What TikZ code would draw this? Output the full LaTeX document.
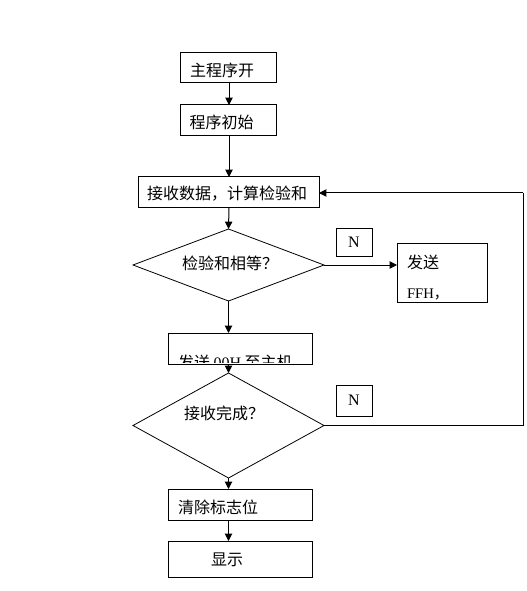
\documentclass[tikz,border=0pt]{standalone}
\usepackage{fontspec}
\setmainfont{Liberation Serif}
\newfontfamily\cjk{Noto Sans CJK SC}
\usetikzlibrary{shapes.geometric,arrows.meta}
\begin{document}
\begin{tikzpicture}[x=0.75pt,y=-0.75pt,
  every node/.style={inner sep=0pt,outer sep=0pt},
  box/.style={draw,line width=0.75pt,rectangle},
  dia/.style={draw,line width=0.6pt,diamond,minimum width=143.25pt},
  lbl/.style={font=\cjk\fontsize{12pt}{14pt}\selectfont},
  nbox/.style={draw,line width=0.75pt,minimum width=27pt,font=\fontsize{12pt}{14pt}\selectfont},
  conn/.style={line width=0.75pt,-{Triangle[length=5.5pt,width=5.5pt]}},
  line/.style={line width=0.75pt}]
\useasboundingbox[fill=white] (0,0) rectangle (526,591);
% boxes
\node[box,minimum width=72pt,minimum height=22.5pt] (b1) at (228,68) {};
\node[lbl] (t1) at (222,70) {主程序开};
\node[box,minimum width=72pt,minimum height=23.25pt] (b2) at (228,120.5) {};
\node[lbl] (t2) at (221.5,122) {程序初始};
\node[box,minimum width=135.75pt,minimum height=23.25pt] (b3) at (228.5,192.5) {};
\node[lbl] (t3) at (227,194) {接收数据，计算检验和};
\node[dia,minimum height=54pt] (d1) at (228.5,265) {};
\node[lbl] (t4) at (230,263) {检验和相等？};
\node[box,minimum width=67.5pt,minimum height=44pt] (bf) at (442,272.8) {};
\node[lbl,anchor=west] (t5) at (407,262) {发送};
\node[anchor=west,font=\fontsize{11pt}{13pt}\selectfont] (t6) at (407,294) {FFH{\cjk，}};
\node[nbox,minimum height=20.25pt] (n1) at (354,242.5) {N};
\node[box,minimum width=108pt,minimum height=23.25pt] (b4) at (240,348.5) {};
\begin{scope}
\clip (168,333) rectangle (312,362.5);
\node[lbl,anchor=west] (t7) at (178,362) {发送 {\rmfamily 00H} 至主机};
\end{scope}
\node[dia,minimum height=78.75pt] (d2) at (228.5,425.5) {};
\node[lbl] (t8) at (224,413) {接收完成？};
\node[nbox,minimum height=23.25pt] (n2) at (354,400.5) {N};
\node[box,minimum width=108pt,minimum height=23.25pt] (b5) at (240,504.5) {};
\node[lbl,anchor=west] (t9) at (178,507) {清除标志位};
\node[box,minimum width=108pt,minimum height=27pt] (b6) at (240,559) {};
\node[lbl] (t10) at (227,560) {显示};
\coordinate (cr) at (523,193);
% connectors
\draw[conn] (b1.south -| 229,0) -- (b2.north -| 229,0);
\draw[conn] (b2.south -| 229,0) -- (b3.north -| 229,0);
\draw[conn] (b3.south -| 229,0) -- (d1.north);
\draw[conn] (d1.south) -- (d1.south |- b4.north);
\draw[conn] (d1.south |- b4.south) -- (d2.north);
\draw[conn] (d2.south) -- (d2.south |- b5.north);
\draw[conn] (d2.south |- b5.south) -- (d2.south |- b6.north);
\draw[conn] (d1.east) -- (d1.east -| bf.west);
\draw[line] (d2.east) -| (cr);
\draw[conn] (cr) -- (cr -| b3.east);
\end{tikzpicture}
\end{document}
